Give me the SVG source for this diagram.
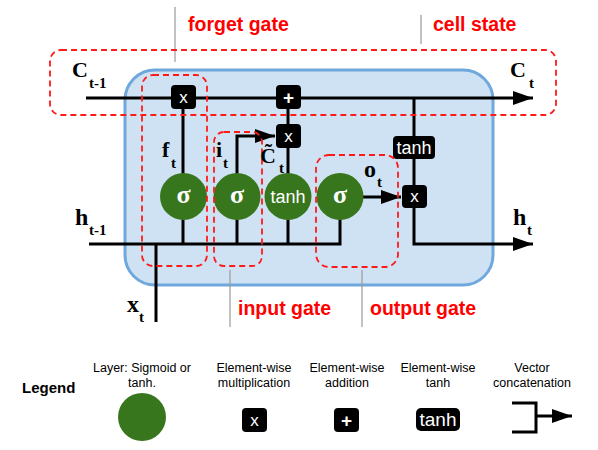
<svg xmlns="http://www.w3.org/2000/svg" width="598" height="450" viewBox="0 0 598 450">
<defs>
<marker id="ah" viewBox="0 0 20 14" refX="20" refY="7" markerWidth="20" markerHeight="14" markerUnits="userSpaceOnUse" orient="auto">
<path d="M0,0 L20,7 L0,14 Z" fill="#000"/>
</marker>
<style>
.ln{stroke:#000;stroke-width:3;fill:none}
.dash{stroke:#ff1a1a;stroke-width:1.8;fill:none;stroke-dasharray:6,4}
.gray{stroke:#999;stroke-width:1.2}
.lab{font-family:"Liberation Serif",serif;font-weight:bold;fill:#000}
.gate{font-family:"Liberation Sans",Arial,sans-serif;font-weight:bold;font-size:19.5px;fill:#ff0000}
.op{fill:#000}
.wt{font-family:"Liberation Sans",Arial,sans-serif;fill:#fff;text-anchor:middle}
.sig{font-family:"Liberation Serif",serif;font-weight:bold;font-size:26px;fill:#fff;text-anchor:middle}
.layer{fill:#38761d}
.leg{font-family:"Liberation Sans",Arial,sans-serif;font-size:12.5px;fill:#000;text-anchor:middle}
</style>
</defs>

<g id="cell">
<rect x="125" y="70" width="368" height="215" rx="30" fill="#cfe2f3" stroke="#6fa8dc" stroke-width="3"/>
</g>

<g id="connectors">
<line class="ln" x1="86" y1="98" x2="533" y2="98" marker-end="url(#ah)"/>
<polyline class="ln" points="89,244 340,244 340,219"/>
<line class="ln" x1="156" y1="244" x2="156" y2="322"/>
<line class="ln" x1="183" y1="244" x2="183" y2="108"/>
<polyline class="ln" points="237,244 237,136 275,136" marker-end="url(#ah)"/>
<line class="ln" x1="288" y1="244" x2="288" y2="98"/>
<line class="ln" x1="363" y1="197" x2="401" y2="197" marker-end="url(#ah)"/>
<polyline class="ln" points="414,98 414,244 533,244" marker-end="url(#ah)"/>
</g>

<g id="gray-leaders">
<line class="gray" x1="175" y1="7" x2="175" y2="62"/>
<line class="gray" x1="421" y1="15" x2="421" y2="44"/>
<line class="gray" x1="230" y1="270" x2="230" y2="327"/>
<line class="gray" x1="362" y1="270" x2="362" y2="327"/>
</g>

<g id="forget-mult"><rect class="op" x="171" y="85" width="25" height="24" rx="4"/><text class="wt" x="183.5" y="103" font-size="17">x</text></g>
<g id="add"><rect class="op" x="276" y="85" width="25" height="24" rx="4"/><text class="wt" x="288.5" y="104" font-size="19" font-weight="bold">+</text></g>
<g id="input-mult"><rect class="op" x="276" y="124" width="25" height="24" rx="4"/><text class="wt" x="288.5" y="142" font-size="17">x</text></g>
<g id="out-tanh"><rect class="op" x="393" y="136" width="42" height="23" rx="4"/><text class="wt" x="414" y="154" font-size="18">tanh</text></g>
<g id="out-mult"><rect class="op" x="402" y="185" width="25" height="23" rx="4"/><text class="wt" x="414.5" y="202" font-size="17">x</text></g>

<g id="forget-sigma"><circle class="layer" cx="183.5" cy="196.5" r="23.5"/><text class="sig" x="183.5" y="203">σ</text></g>
<g id="input-sigma"><circle class="layer" cx="237" cy="196.5" r="23.5"/><text class="sig" x="237" y="203">σ</text></g>
<g id="cand-tanh"><circle class="layer" cx="288" cy="196.5" r="23.5"/><text class="wt" x="288" y="203" font-size="18">tanh</text></g>
<g id="output-sigma"><circle class="layer" cx="340" cy="196.5" r="23.5"/><text class="sig" x="340" y="203">σ</text></g>

<g id="gate-boxes">
<rect class="dash" x="50" y="50" width="506" height="65" rx="11"/>
<rect class="dash" x="142" y="75" width="65" height="191" rx="11"/>
<rect class="dash" x="214" y="132" width="48" height="134" rx="10"/>
<rect class="dash" x="316" y="155" width="82" height="112" rx="13"/>
</g>

<g id="labels">
<text class="lab" x="72" y="77" font-size="22">C</text><text class="lab" x="89" y="88" font-size="15">t-1</text>
<text class="lab" x="510" y="77" font-size="22">C</text><text class="lab" x="529" y="88" font-size="15">t</text>
<text class="lab" x="75" y="225" font-size="24">h</text><text class="lab" x="89" y="235" font-size="15">t-1</text>
<text class="lab" x="513" y="225" font-size="24">h</text><text class="lab" x="527" y="235" font-size="15">t</text>
<text class="lab" x="127" y="312" font-size="24">x</text><text class="lab" x="139" y="322" font-size="15">t</text>
<text class="lab" x="162" y="157" font-size="22">f</text><text class="lab" x="171" y="168" font-size="15">t</text>
<text class="lab" x="216" y="157" font-size="22">i</text><text class="lab" x="223" y="168" font-size="15">t</text>
<text class="lab" x="260" y="163" font-size="22">C̃</text><text class="lab" x="279" y="173" font-size="15">t</text>
<text class="lab" x="364" y="177" font-size="24">o</text><text class="lab" x="377" y="187" font-size="15">t</text>
</g>

<g id="gate-names">
<text class="gate" x="188" y="31">forget gate</text>
<text class="gate" x="433" y="31">cell state</text>
<text class="gate" x="238" y="315">input gate</text>
<text class="gate" x="370" y="315">output gate</text>
</g>

<g id="legend">
<text x="22" y="393" font-family="'Liberation Sans',Arial,sans-serif" font-weight="bold" font-size="15">Legend</text>
<text class="leg" x="142" y="372">Layer: Sigmoid or</text><text class="leg" x="142" y="387">tanh.</text>
<circle class="layer" cx="142" cy="417" r="24"/>
<text class="leg" x="254" y="372">Element-wise</text><text class="leg" x="254" y="387">multiplication</text>
<rect class="op" x="242" y="408" width="25" height="24" rx="4"/><text class="wt" x="254.5" y="426" font-size="17">x</text>
<text class="leg" x="347" y="372">Element-wise</text><text class="leg" x="347" y="387">addition</text>
<rect class="op" x="334" y="408" width="25" height="24" rx="4"/><text class="wt" x="346.5" y="427" font-size="19" font-weight="bold">+</text>
<text class="leg" x="438" y="372">Element-wise</text><text class="leg" x="438" y="387">tanh</text>
<rect class="op" x="416" y="408" width="44" height="23" rx="5"/><text class="wt" x="438" y="426" font-size="19">tanh</text>
<text class="leg" x="532" y="372">Vector</text><text class="leg" x="532" y="387">concatenation</text>
<polyline class="ln" points="512,403 536,403 536,432 512,432"/>
<line class="ln" x1="536" y1="416" x2="572" y2="416" marker-end="url(#ah)"/>
</g>
</svg>
